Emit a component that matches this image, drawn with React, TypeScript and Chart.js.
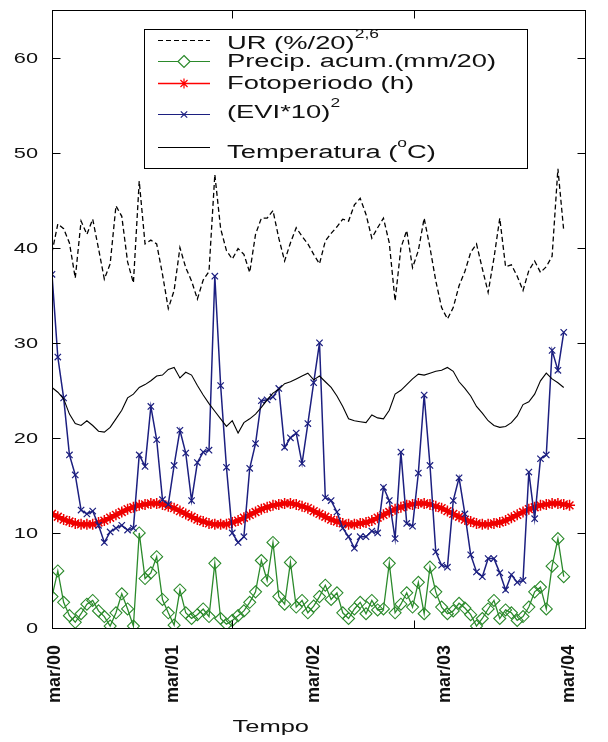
import React, { useEffect, useRef } from 'react';
import { Chart, registerables } from 'chart.js';

Chart.register(...registerables);

// ---------- data ----------
const STEP_DAYS = 16; // 16-day composites
const X_MAX_DAYS = 1468;
const Y_MAX = 65;

const tickDays = [8, 333, 722, 1082, 1423];
const tickLabels = ['mar/00', 'mar/01', 'mar/02', 'mar/03', 'mar/04'];
const minorTickDays = [495, 995];
const yTicks = [0, 10, 20, 30, 40, 50, 60];

const urValues = [
  39.5, 42.5, 42.0, 40.5, 36.8, 42.8, 41.4, 43.0, 39.9, 36.7,
  38.3, 44.4, 43.3, 38.5, 36.3, 47.0, 40.4, 40.8, 40.4, 37.2,
  33.6, 35.5, 40.0, 37.9, 36.5, 34.6, 36.6, 37.5, 47.7, 42.0,
  39.7, 38.8, 39.9, 39.3, 37.4, 41.4, 43.1, 43.1, 43.9, 41.0,
  38.6, 40.5, 42.1, 41.2, 40.4, 39.3, 38.3, 40.7, 41.5, 42.2,
  43.0, 42.8, 44.5, 45.2, 43.5, 41.0, 42.1, 43.1, 40.5, 34.4,
  40.0, 41.8, 37.9, 39.7, 43.1, 40.0, 36.5, 33.7, 32.5, 33.7,
  36.0, 37.5, 39.5, 40.4, 37.8, 35.3, 38.9, 43.1, 38.0, 38.2,
  37.0, 35.5, 37.6, 38.6, 37.4, 38.0, 39.1, 48.3, 41.8,
];

const precipValues = [
  3.3, 6.0, 2.7, 1.3, 0.6, 1.5, 2.5, 2.9, 1.8, 1.2,
  0.2, 1.6, 3.6, 2.0, 0.2, 10.0, 5.2, 5.8, 7.5, 3.0,
  1.6, 0.3, 4.0, 1.6, 1.0, 1.4, 2.0, 1.2, 6.8, 1.0,
  0.4, 0.8, 1.3, 1.8, 2.7, 3.8, 7.1, 5.0, 9.0, 3.3,
  2.5, 6.9, 2.2, 2.9, 1.6, 2.3, 3.3, 4.5, 3.0, 3.7,
  1.6, 1.0, 2.0, 2.7, 1.5, 2.9, 1.9, 2.0, 6.8, 1.6,
  2.5, 3.7, 2.2, 4.8, 1.5, 6.4, 3.8, 2.2, 1.5, 1.8,
  2.6, 2.1, 1.4, 0.2, 1.0, 2.0, 2.9, 1.0, 1.9, 1.6,
  0.8, 1.2, 2.2, 3.8, 4.3, 2.0, 6.5, 9.4, 5.4,
];

const fotoValues = [
  12.0, 11.7, 11.4, 11.2, 11.0, 10.9, 10.9, 10.9, 11.1, 11.3,
  11.6, 11.9, 12.2, 12.5, 12.7, 12.9, 13.0, 13.1, 13.1, 13.0,
  12.8, 12.6, 12.3, 12.0, 11.7, 11.4, 11.2, 11.0, 10.9, 10.9,
  10.9, 11.1, 11.3, 11.6, 11.9, 12.2, 12.5, 12.7, 12.9, 13.0,
  13.1, 13.1, 13.0, 12.8, 12.6, 12.3, 12.0, 11.7, 11.4, 11.2,
  11.0, 10.9, 10.9, 11.0, 11.1, 11.3, 11.6, 11.9, 12.2, 12.5,
  12.7, 12.9, 13.0, 13.1, 13.1, 13.0, 12.8, 12.6, 12.3, 12.0,
  11.7, 11.4, 11.2, 11.0, 10.9, 10.9, 11.0, 11.1, 11.3, 11.6,
  11.9, 12.2, 12.5, 12.7, 12.9, 13.0, 13.1, 13.1, 13.0, 12.9,
];

const eviValues = [
  37.2, 28.5, 24.2, 18.2, 16.1, 12.4, 12.0, 12.3, 10.8, 9.0,
  10.1, 10.5, 10.8, 10.3, 10.5, 18.2, 17.0, 23.3, 19.8, 13.5,
  13.0, 17.1, 20.8, 18.4, 13.4, 17.4, 18.5, 18.7, 37.0, 25.5,
  16.9, 10.0, 9.0, 9.6, 16.8, 19.4, 23.9, 24.0, 24.3, 25.2,
  19.0, 20.0, 20.5, 17.3, 21.5, 25.8, 30.0, 13.7, 13.4, 12.2,
  10.5, 9.6, 8.4, 9.6, 9.6, 10.2, 10.0, 14.8, 13.4, 9.4,
  18.5, 11.0, 10.7, 16.3, 24.5, 17.1, 8.0, 6.6, 6.4, 13.4,
  15.8, 12.0, 7.7, 5.9, 5.4, 7.3, 7.3, 5.8, 4.0, 5.6,
  4.8, 5.0, 16.4, 11.5, 17.8, 18.2, 29.2, 27.1, 31.1,
];

const tempValues = [
  25.3, 24.8, 24.1, 22.5, 21.5, 21.3, 21.8, 21.3, 20.7, 20.6,
  21.1, 22.0, 22.9, 24.2, 24.6, 25.3, 25.6, 26.0, 26.5, 26.6,
  27.2, 27.4, 26.3, 26.9, 26.6, 25.5, 24.5, 23.6, 22.8, 22.0,
  21.2, 21.8, 20.5, 21.6, 22.0, 22.5, 23.2, 24.0, 24.7, 25.1,
  25.7, 25.9, 26.2, 26.5, 26.8, 26.1, 26.5, 25.9, 25.3, 24.4,
  23.3, 22.0, 21.8, 21.7, 21.6, 22.4, 22.1, 22.0, 22.9, 24.6,
  25.0, 25.6, 26.2, 26.7, 26.6, 26.8, 27.0, 27.1, 27.4, 27.0,
  25.9, 25.2, 24.4, 23.3, 22.6, 21.8, 21.3, 21.1, 21.2, 21.6,
  22.3, 23.5, 23.8, 24.6, 26.0, 26.8, 26.2, 25.8, 25.3,
];

const legendLabels = [
  [['UR (%/20)', false], ['2,6', true]],
  [['Precip. acum.(mm/20)', false]],
  [['Fotoperiodo (h)', false]],
  [['(EVI*10)', false], ['2', true]],
  [['Temperatura (', false], ['o', true], ['C)', false]],
];
const axisTitle = 'Tempo';

// ---------- styles ----------
const FONT = "'Liberation Sans', Arial, sans-serif";
const C_UR = '#000000';
const C_PRECIP = '#2b8a2b';
const C_FOTO = '#ff0000';
const C_EVI = '#1c1f80';
const C_TEMP = '#000000';

const toXY = (vals: number[]) => vals.map((v, i) => ({ x: i * STEP_DAYS, y: v }));

function stretchedText(
  ctx: CanvasRenderingContext2D,
  text: string,
  x: number,
  y: number,
  font: string,
  sx: number,
  align: 'left' | 'right' | 'center' = 'left'
): number {
  ctx.save();
  ctx.font = font;
  ctx.textAlign = 'left';
  const w = ctx.measureText(text).width * sx;
  let x0 = x;
  if (align === 'right') x0 = x - w;
  if (align === 'center') x0 = x - w / 2;
  ctx.translate(x0, y);
  ctx.scale(sx, 1);
  ctx.fillText(text, 0, 0);
  ctx.restore();
  return w;
}

function drawMarker(ctx: CanvasRenderingContext2D, kind: string, x: number, y: number) {
  ctx.beginPath();
  if (kind === 'precip') {
    const r = 6;
    ctx.moveTo(x, y - r); ctx.lineTo(x + r, y); ctx.lineTo(x, y + r); ctx.lineTo(x - r, y); ctx.closePath();
    ctx.fillStyle = '#fff';
    ctx.fill();
  } else if (kind === 'foto') {
    const r = 5;
    ctx.moveTo(x - r, y); ctx.lineTo(x + r, y);
    ctx.moveTo(x, y - r); ctx.lineTo(x, y + r);
    const d = r * 0.707;
    ctx.moveTo(x - d, y - d); ctx.lineTo(x + d, y + d);
    ctx.moveTo(x - d, y + d); ctx.lineTo(x + d, y - d);
  } else if (kind === 'evi') {
    const d = 3.2;
    ctx.moveTo(x - d, y - d); ctx.lineTo(x + d, y + d);
    ctx.moveTo(x - d, y + d); ctx.lineTo(x + d, y - d);
  }
  ctx.stroke();
}

const overlayPlugin = {
  id: 'overlay',
  afterDraw(chart: any) {
    const { ctx, chartArea: a, scales } = chart;
    const xs = scales.x;
    const ys = scales.y;
    ctx.save();
    // frame
    ctx.strokeStyle = '#000';
    ctx.lineWidth = 1;
    const L = Math.round(a.left) + 0.5;
    const R = Math.round(a.right) - 0.5;
    const T = Math.round(a.top) + 0.5;
    const B = Math.round(a.bottom) + 0.5;
    ctx.strokeRect(L, T, R - L, B - T);
    const tl = 8;
    ctx.beginPath();
    yTicks.forEach((v) => {
      const y = Math.round(ys.getPixelForValue(v)) + 0.5;
      ctx.moveTo(L, y); ctx.lineTo(L + tl, y);
      ctx.moveTo(R, y); ctx.lineTo(R - tl, y);
    });
    minorTickDays.forEach((d) => {
      const x = Math.round(xs.getPixelForValue(d)) + 0.5;
      ctx.moveTo(x, T); ctx.lineTo(x, T + tl);
      ctx.moveTo(x, B); ctx.lineTo(x, B - tl);
    });
    ctx.stroke();

    // y tick labels
    ctx.fillStyle = '#111';
    ctx.textBaseline = 'middle';
    yTicks.forEach((v) => {
      stretchedText(ctx, String(v), a.left - 14, ys.getPixelForValue(v) + 1, `15px ${FONT}`, 1.45, 'right');
    });

    // legend box
    const bx = 144.5, by = 29.5, bw = 383, bh = 139;
    ctx.fillStyle = '#fff';
    ctx.fillRect(bx, by, bw, bh);
    ctx.strokeStyle = '#000';
    ctx.strokeRect(bx, by, bw, bh);

    const kinds = ['ur', 'precip', 'foto', 'evi', 'temp'];
    const colors = [C_UR, C_PRECIP, C_FOTO, C_EVI, C_TEMP];
    const symY = [40, 61, 83, 114, 147];
    const txtY = [44, 62, 84, 113, 153];
    kinds.forEach((k, i) => {
      ctx.save();
      ctx.strokeStyle = colors[i];
      ctx.lineWidth = k === 'foto' ? 1.6 : 1.2;
      if (k === 'ur') ctx.setLineDash([5, 3]);
      ctx.beginPath();
      ctx.moveTo(158, symY[i] + 0.5);
      ctx.lineTo(210, symY[i] + 0.5);
      ctx.stroke();
      ctx.setLineDash([]);
      ctx.lineWidth = 1.2;
      drawMarker(ctx, k, 184, symY[i] + 0.5);
      ctx.restore();

      ctx.fillStyle = '#111';
      ctx.textBaseline = 'middle';
      let x = 227;
      legendLabels[i].forEach(([t, sup]) => {
        if (sup) {
          x += stretchedText(ctx, t as string, x, txtY[i] - 9, `12px ${FONT}`, 1.45);
        } else {
          x += stretchedText(ctx, t as string, x, txtY[i], `18px ${FONT}`, 1.52);
        }
      });
    });

    // axis title
    ctx.fillStyle = '#111';
    ctx.textBaseline = 'middle';
    stretchedText(ctx, axisTitle, a.left + (a.right - a.left) * 0.41, 727, `17px ${FONT}`, 1.5, 'center');
    ctx.restore();
  },
};

export default function App() {
  const canvasRef = useRef<HTMLCanvasElement | null>(null);

  useEffect(() => {
    if (!canvasRef.current) return;
    const chart = new Chart(canvasRef.current, {
      type: 'line',
      data: {
        datasets: [
          {
            label: 'UR',
            data: toXY(urValues),
            borderColor: C_UR,
            borderWidth: 1.3,
            borderDash: [5, 3],
            pointRadius: 0,
            tension: 0,
            order: 5,
          },
          {
            label: 'Precip',
            data: toXY(precipValues),
            borderColor: C_PRECIP,
            borderWidth: 1.3,
            pointStyle: 'rectRot',
            pointRadius: 6,
            pointBorderColor: C_PRECIP,
            pointBackgroundColor: 'rgba(0,0,0,0)',
            pointBorderWidth: 1.1,
            tension: 0,
            order: 4,
          },
          {
            label: 'Foto',
            data: toXY(fotoValues),
            borderColor: C_FOTO,
            borderWidth: 4,
            pointStyle: 'star',
            pointRadius: 5.5,
            pointBorderColor: '#ee0000',
            pointBackgroundColor: C_FOTO,
            pointBorderWidth: 1.5,
            tension: 0,
            order: 3,
          },
          {
            label: 'EVI',
            data: toXY(eviValues),
            borderColor: C_EVI,
            borderWidth: 1.5,
            pointStyle: 'crossRot',
            pointRadius: 4.5,
            pointBorderColor: C_EVI,
            pointBorderWidth: 1.2,
            tension: 0,
            order: 2,
          },
          {
            label: 'Temp',
            data: toXY(tempValues),
            borderColor: C_TEMP,
            borderWidth: 1.1,
            pointRadius: 0,
            tension: 0,
            order: 1,
          },
        ],
      },
      options: {
        responsive: false,
        animation: false,
        maintainAspectRatio: false,
        layout: { padding: { top: 10, right: 1, left: 0, bottom: 0 } },
        plugins: { legend: { display: false }, tooltip: { enabled: false } },
        scales: {
          x: {
            type: 'linear',
            min: 0,
            max: X_MAX_DAYS,
            grid: { display: false, drawTicks: false },
            border: { display: false },
            afterBuildTicks: (s: any) => {
              s.ticks = tickDays.map((v) => ({ value: v }));
            },
            afterFit: (s: any) => {
              s.height = 114;
            },
            ticks: {
              autoSkip: false,
              maxRotation: 90,
              minRotation: 90,
              padding: 17,
              color: '#111',
              font: { family: FONT, size: 18, weight: 'bold' },
              callback: (_v: any, i: number) => tickLabels[i],
            },
          },
          y: {
            min: 0,
            max: Y_MAX,
            grid: { display: false, drawTicks: false },
            border: { display: false },
            afterBuildTicks: (s: any) => {
              s.ticks = yTicks.map((v) => ({ value: v }));
            },
            afterFit: (s: any) => {
              s.width = 52;
            },
            ticks: { display: false },
          },
        },
      } as any,
      plugins: [overlayPlugin],
    });
    return () => chart.destroy();
  }, []);

  return (
    <div style={{ position: 'absolute', left: 0, top: 0, width: 608, height: 742, background: '#fff' }}>
      <canvas ref={canvasRef} width={608} height={742} style={{ display: 'block' }} />
    </div>
  );
}
